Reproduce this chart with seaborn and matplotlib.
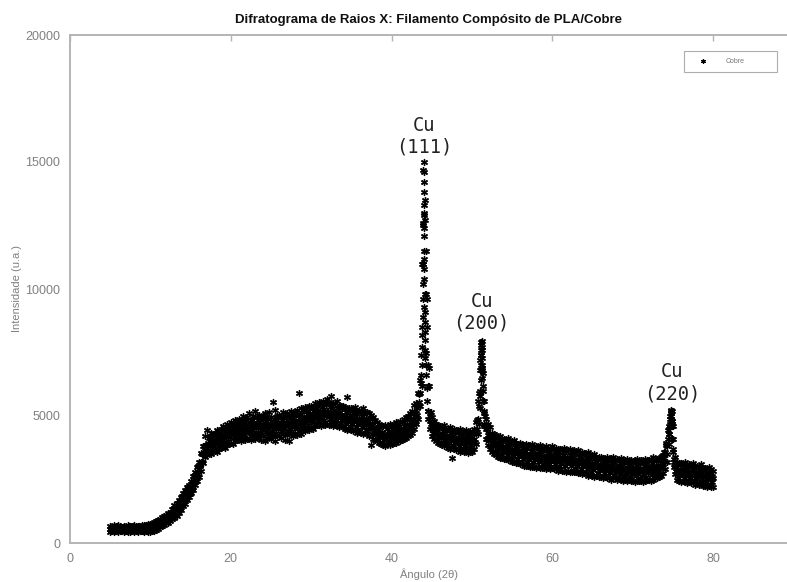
import numpy as np
import pandas as pd
import matplotlib
matplotlib.use("Agg")
import matplotlib.pyplot as plt
import seaborn as sns

# ---------------- data ----------------
angulo = np.round(np.arange(5.0, 80.001, 0.25), 3)
angulo_meio = np.round(np.arange(5.125, 79.876, 0.25), 3)

intensidade_alta = [
    660, 620, 700, 640,  690, 650, 610, 680,  640, 710, 660, 620,  700, 650, 680, 630,  690, 720, 700, 760,
    760, 750, 820, 860,  920, 950, 1040, 1050,  1100, 1180, 1200, 1340,  1480, 1560, 1700, 1820,  1950, 2100, 2200, 2300,
    2450, 2650, 2800, 3000,  3200, 3550, 3800, 4200,  4450, 4150, 4350, 4250,  4350, 4450, 4300, 4500,  4600, 4500, 4700, 4550,
    4750, 4650, 4850, 4700,  4900, 4800, 5000, 4850,  4950, 5100, 4850, 5000,  5200, 4950, 5050, 4900,  5000, 5100, 4950, 5150,
    4950, 5550, 5250, 5000,  5050, 4980, 5150, 5000,  5100, 5000, 5200, 5050,  5150, 5250, 5900, 5300,  5250, 5350, 5200, 5400,
    5400, 5350, 5500, 5450,  5550, 5450, 5600, 5500,  5650, 5550, 5800, 5500,  5500, 5600, 5450, 5400,  5400, 5350, 5750, 5300,
    5300, 5250, 5350, 5200,  5250, 5200, 5300, 5150,  5150, 5100, 5050, 4950,  4850, 4750, 4700, 4650,  4600, 4650, 4600, 4700,
    4650, 4700, 4750, 4700,  4800, 4750, 4900, 4950,  5000, 5100, 5200, 5450,  5500, 5900, 6400, 8200,  14600, 9800, 6200, 5000,
    4950, 4800, 4700, 4650,  4600, 4550, 4650, 4500,  4500, 4550, 4450, 4500,  4450, 4400, 4500, 4350,  4400, 4450, 4350, 4400,
    4350, 4500, 4750, 5600,  7200, 7950, 5600, 4900,  4700, 4550, 4350, 4300,  4250, 4150, 4200, 4100,  4100, 4050, 4150, 4000,
    4000, 4050, 3950, 3900,  3950, 3900, 3850, 3900,  3850, 3800, 3900, 3800,  3800, 3750, 3850, 3750,  3750, 3800, 3700, 3750,
    3800, 3700, 3750, 3700,  3700, 3650, 3750, 3650,  3650, 3700, 3600, 3650,  3600, 3650, 3550, 3600,  3550, 3500, 3600, 3450,
    3450, 3500, 3400, 3400,  3400, 3350, 3300, 3400,  3300, 3350, 3400, 3300,  3300, 3250, 3350, 3250,  3250, 3300, 3200, 3250,
    3200, 3250, 3300, 3200,  3250, 3200, 3300, 3250,  3250, 3300, 3400, 3300,  3300, 3350, 3400, 3450,  3600, 3800, 4600, 5200,
    4600, 3400, 3200, 3150,  3150, 3100, 3200, 3100,  3100, 3050, 3150, 3050,  3050, 3000, 3100, 2950,  2950, 2900, 3000, 2900,
    2850,
]

intensidade_media = [
    560, 540, 580, 550,  570, 550, 540, 570,  550, 580, 560, 540,  570, 550, 560, 580,  560, 590, 570, 600,
    610, 600, 670, 690,  760, 790, 860, 880,  960, 990, 1070, 1130,  1260, 1330, 1470, 1560,  1720, 1800, 1960, 2060,
    2220, 2360, 2570, 2700,  2920, 3180, 3520, 3730,  3870, 3880, 3970, 3960,  4020, 4030, 4120, 4130,  4220, 4220, 4300, 4300,
    4370, 4370, 4450, 4450,  4520, 4490, 4540, 4520,  4570, 4540, 4590, 4570,  4620, 4590, 4630, 4600,  4640, 4600, 4640, 4600,
    4640, 4610, 4660, 4620,  4670, 4630, 4670, 4630,  4670, 4660, 4720, 4700,  4770, 4750, 4820, 4800,  4870, 4860, 4930, 4930,
    5000, 4980, 5050, 5060,  5100, 5080, 5140, 5120,  5170, 5130, 5160, 5100,  5120, 5050, 5060, 4990,  5000, 4940, 4960, 4900,
    4920, 4870, 4900, 4840,  4870, 4810, 4820, 4760,  4770, 4680, 4640, 4520,  4470, 4380, 4370, 4280,  4270, 4230, 4280, 4260,
    4320, 4300, 4360, 4350,  4420, 4410, 4490, 4510,  4620, 4660, 4770, 4880,  5120, 5380, 5920, 11000,  13000, 11500, 7000, 4800,
    4620, 4430, 4370, 4280,  4270, 4200, 4220, 4160,  4170, 4110, 4130, 4080,  4100, 4040, 4070, 4020,  4050, 4000, 4030, 3980,
    4020, 4080, 4320, 4880,  6800, 7600, 5200, 4480,  4270, 4080, 4000, 3880,  3870, 3780, 3800, 3730,  3740, 3680, 3700, 3630,
    3650, 3590, 3610, 3540,  3560, 3500, 3520, 3460,  3480, 3430, 3460, 3400,  3430, 3380, 3410, 3360,  3390, 3340, 3370, 3330,
    3370, 3320, 3350, 3300,  3330, 3280, 3310, 3260,  3290, 3240, 3270, 3220,  3240, 3190, 3220, 3160,  3180, 3120, 3140, 3080,
    3100, 3040, 3060, 3000,  3020, 2970, 3000, 2950,  2980, 2930, 2970, 2930,  2960, 2910, 2940, 2890,  2920, 2870, 2900, 2850,
    2880, 2830, 2870, 2830,  2870, 2840, 2890, 2860,  2910, 2880, 2940, 2920,  2980, 2980, 3020, 3100,  3200, 3500, 4300, 4900,
    4100, 3050, 2870, 2780,  2820, 2770, 2800, 2750,  2780, 2730, 2760, 2700,  2720, 2660, 2680, 2620,  2640, 2580, 2600, 2540,
    2540,
]

intensidade_baixa = [
    450, 470, 420, 460,  440, 470, 490, 430,  480, 420, 450, 490,  430, 470, 450, 480,  460, 430, 470, 450,
    440, 470, 490, 530,  570, 630, 660, 720,  780, 800, 880, 930,  1000, 1080, 1200, 1300,  1450, 1520, 1680, 1800,
    1950, 2080, 2300, 2450,  2600, 2850, 3150, 3400,  3450, 3550, 3500, 3600,  3650, 3600, 3700, 3750,  3800, 3750, 3850, 3900,
    3950, 3900, 4000, 4050,  4100, 4000, 4150, 4050,  4100, 4150, 4050, 4200,  4100, 4200, 4150, 4050,  4200, 4000, 4150, 4250,
    4100, 4200, 4000, 4250,  4200, 4150, 4300, 4050,  4250, 4000, 4300, 4200,  4350, 4250, 4400, 4300,  4450, 4400, 4500, 4450,
    4550, 4500, 4600, 4650,  4650, 4600, 4700, 4650,  4700, 4650, 4750, 4600,  4650, 4600, 4550, 4600,  4550, 4500, 4450, 4500,
    4450, 4400, 4450, 4350,  4400, 4350, 4300, 4350,  4300, 4200, 3850, 4100,  4050, 4000, 3950, 3900,  3850, 3800, 3900, 3850,
    3900, 3950, 3950, 4000,  4000, 4050, 4100, 4150,  4200, 4250, 4350, 4500,  4700, 4900, 5400, 6200,  11500, 7500, 5200, 4500,
    4200, 4100, 4000, 3950,  3900, 3850, 3800, 3850,  3750, 3700, 3350, 3700,  3650, 3700, 3600, 3650,  3600, 3650, 3550, 3600,
    3600, 3700, 3900, 4300,  5800, 6900, 4600, 4100,  3850, 3700, 3600, 3500,  3450, 3400, 3350, 3350,  3300, 3300, 3250, 3250,
    3200, 3200, 3150, 3150,  3100, 3100, 3050, 3050,  3050, 3000, 3000, 3000,  2950, 3000, 2950, 2950,  2950, 2900, 2950, 2900,
    2950, 2900, 2900, 2850,  2900, 2850, 2850, 2800,  2850, 2800, 2800, 2800,  2800, 2750, 2750, 2700,  2750, 2700, 2650, 2700,
    2650, 2600, 2650, 2600,  2600, 2550, 2600, 2550,  2550, 2500, 2550, 2550,  2500, 2550, 2500, 2450,  2500, 2450, 2500, 2450,
    2450, 2400, 2450, 2450,  2450, 2400, 2450, 2500,  2500, 2450, 2500, 2550,  2550, 2600, 2650, 2750,  2900, 3200, 3900, 4600,
    3700, 2700, 2500, 2450,  2400, 2450, 2400, 2350,  2400, 2350, 2400, 2300,  2350, 2300, 2350, 2250,  2250, 2200, 2250, 2200,
    2200,
]

intensidade_sup = [
    575, 640, 600, 660,  570, 625, 635, 600,  580, 650, 605, 650,  570, 625, 650, 610,  585, 660, 630, 700,
    640, 745, 735, 865,  785, 915, 995, 975,  1005, 1135, 1160, 1340,  1345, 1565, 1605, 1850,  1775, 2020, 2195, 2215,
    2335, 2630, 2725, 3020,  3065, 3485, 3805, 3875,  3945, 4175, 4100, 4305,  4045, 4280, 4395, 4290,  4290, 4510, 4435, 4650,
    4390, 4610, 4720, 4600,  4575, 4765, 4665, 4860,  4575, 4770, 4850, 4710,  4675, 4860, 4750, 4935,  4640, 4820, 4890, 4735,
    4695, 4885, 4775, 4960,  4670, 4850, 4920, 4765,  4735, 4940, 4845, 5050,  4780, 4985, 5080, 4950,  4935, 5145, 5065, 5280,
    5010, 5215, 5315, 5185,  5160, 5360, 5265, 5460,  5170, 5345, 5400, 5225,  5155, 5305, 5160, 5310,  4990, 5150, 5200, 5025,
    4965, 5135, 5005, 5170,  4860, 5015, 5060, 4880,  4795, 4910, 4715, 4810,  4445, 4555, 4595, 4375,  4310, 4475, 4390, 4570,
    4330, 4510, 4595, 4485,  4475, 4670, 4620, 4845,  4660, 4895, 5065, 5100,  5310, 5870, 7400, 12600,  13500, 9600, 6900, 5150,
    4585, 4620, 4445, 4555,  4255, 4390, 4430, 4265,  4200, 4340, 4225, 4370,  4090, 4235, 4285, 4135,  4085, 4235, 4125, 4280,
    4070, 4380, 4840, 5900,  7400, 6700, 4990, 4475,  4235, 4260, 4060, 4155,  3845, 3970, 4005, 3835,  3770, 3910, 3785, 3920,
    3640, 3780, 3815, 3650,  3590, 3730, 3610, 3750,  3475, 3625, 3670, 3515,  3465, 3615, 3505, 3655,  3385, 3537, 3592, 3450,
    3405, 3555, 3445, 3595,  3325, 3475, 3525, 3375,  3325, 3475, 3365, 3510,  3235, 3385, 3430, 3270,  3210, 3350, 3230, 3370,
    3090, 3230, 3270, 3110,  3055, 3205, 3095, 3245,  2975, 3130, 3190, 3045,  2995, 3145, 3035, 3185,  2915, 3065, 3115, 2965,
    2915, 3070, 2970, 3130,  2875, 3045, 3115, 2985,  2955, 3130, 3050, 3230,  3000, 3230, 3440, 3600,  3950, 4450, 4900, 5200,
    3300, 3120, 3060, 3080,  2855, 3005, 2895, 3045,  2775, 2925, 2970, 2810,  2750, 2890, 2770, 2910,  2630, 2770, 2810, 2640,
]

intensidade_inf = [
    480, 528, 455, 505,  545, 475, 500, 455,  480, 540, 460, 498,  545, 475, 515, 465,  490, 550, 485, 545,
    590, 525, 615, 585,  675, 785, 745, 855,  955, 915, 1040, 1060,  1150, 1340, 1320, 1535,  1730, 1720, 1925, 1930,
    2140, 2405, 2440, 2705,  3020, 3185, 3535, 3590,  3650, 3835, 3675, 3830,  3980, 3825, 3990, 3860,  3995, 4170, 4010, 4175,
    4325, 4160, 4315, 4170,  4280, 4425, 4240, 4385,  4510, 4315, 4445, 4280,  4380, 4520, 4325, 4460,  4575, 4370, 4485, 4305,
    4400, 4545, 4350, 4485,  4605, 4400, 4515, 4335,  4440, 4600, 4420, 4575,  4715, 4535, 4675, 4520,  4640, 4805, 4640, 4805,
    4945, 4765, 4910, 4755,  4865, 5020, 4840, 4985,  5105, 4895, 4995, 4795,  4860, 4965, 4735, 4835,  4925, 4700, 4795, 4595,
    4670, 4795, 4580, 4695,  4795, 4565, 4655, 4450,  4500, 4570, 4290, 4335,  4385, 4155, 4205, 3995,  4050, 4175, 4010, 4150,
    4270, 4110, 4235, 4105,  4215, 4370, 4240, 4425,  4600, 4495, 4705, 4720,  5050, 5570, 6600, 11000,  12700, 8500, 6200, 4700,
    4325, 4320, 4065, 4135,  4195, 3990, 4070, 3885,  3940, 4040, 3845, 3950,  4030, 3835, 3925, 3755,  3825, 3935, 3745, 3860,
    4010, 3980, 4480, 5400,  7000, 6000, 4600, 4100,  4135, 3820, 3820, 3595,  3625, 3710, 3505, 3595,  3670, 3470, 3545, 3360,
    3420, 3520, 3315, 3410,  3490, 3290, 3370, 3190,  3255, 3365, 3170, 3275,  3365, 3175, 3265, 3095,  3165, 3277, 3092, 3210,
    3305, 3115, 3205, 3035,  3105, 3215, 3025, 3135,  3225, 3035, 3125, 2950,  3015, 3125, 2930, 3030,  3110, 2910, 2990, 2810,
    2870, 2970, 2770, 2870,  2955, 2765, 2855, 2685,  2755, 2870, 2690, 2805,  2895, 2705, 2795, 2625,  2695, 2805, 2615, 2725,
    2815, 2630, 2730, 2570,  2655, 2785, 2615, 2745,  2855, 2690, 2810, 2670,  2780, 2970, 3000, 3360,  3860, 4080, 4580, 4820,
    3000, 2820, 2560, 2660,  2755, 2565, 2655, 2485,  2555, 2665, 2470, 2570,  2650, 2450, 2530, 2350,  2410, 2510, 2310, 2400,
]

# extra points measured along the narrow Bragg peaks
pico_angulo = [
    43.70, 43.74, 43.78, 43.82, 43.86, 43.90, 43.94, 43.98, 44.00, 44.02, 44.04, 44.06,
    44.08, 44.10, 44.12, 44.14, 44.18, 44.22, 44.26, 44.30, 44.36, 44.42, 44.48, 44.55,
    43.96, 43.99, 44.03, 44.05, 44.09, 44.11, 44.15, 44.20, 43.92, 43.88,
    50.85, 50.95, 51.02, 51.08, 51.12, 51.16, 51.20, 51.24, 51.28, 51.32, 51.38, 51.45, 51.55,
    51.14, 51.18, 51.22, 51.10, 51.26,
    74.55, 74.62, 74.68, 74.74, 74.80, 74.86, 74.92, 75.00, 75.10, 74.78, 74.84,
]
pico_intensidade = [
    6300, 7000, 7700, 8500, 9600, 11000, 12500, 13800, 15000, 14200, 12900, 12100,
    11200, 10400, 9800, 9100, 8300, 7600, 7000, 6600, 6100, 5600, 5200, 4900,
    14700, 13300, 12400, 10800, 9300, 8700, 8000, 7300, 10200, 8900,
    4700, 5300, 6000, 6800, 7400, 7900, 7700, 7300, 6800, 6200, 5600, 5100, 4700,
    7800, 7600, 7000, 6400, 6500,
    4300, 4700, 5000, 5230, 5000, 4600, 4100, 3600, 3200, 5100, 4800,
]

rotulos_picos = ["Cu\n(111)", "Cu\n(200)", "Cu\n(220)"]
angulo_picos = [44.1, 51.2, 74.9]
topo_picos = [15200, 8270, 5510]

# ---------------- build table ----------------
df = pd.concat([
    pd.DataFrame({"angulo": angulo, "intensidade": intensidade_alta}),
    pd.DataFrame({"angulo": angulo, "intensidade": intensidade_media}),
    pd.DataFrame({"angulo": angulo, "intensidade": intensidade_baixa}),
    pd.DataFrame({"angulo": angulo_meio, "intensidade": intensidade_sup}),
    pd.DataFrame({"angulo": angulo_meio, "intensidade": intensidade_inf}),
    pd.DataFrame({"angulo": pico_angulo, "intensidade": pico_intensidade}),
], ignore_index=True)

# ---------------- style ----------------
sns.set_style("white")
plt.rcParams["font.family"] = ["Liberation Sans", "DejaVu Sans"]

grey_axis = "#b4b4b4"
grey_text = "#808080"

fig = plt.figure(figsize=(7.87, 5.82), dpi=100)
ax = fig.add_axes([70 / 787, 39 / 582, 717 / 787, 508 / 582])

asterisco = (6, 2, 0)
sns.scatterplot(data=df, x="angulo", y="intensidade", marker=asterisco,
                color="black", s=18, linewidth=1.0, label="Cobre", ax=ax)

ax.set_xlim(0, 89.2)
ax.set_ylim(0, 20000)
ax.set_xticks([0, 20, 40, 60, 80])
ax.set_yticks([0, 5000, 10000, 15000, 20000])

for side in ["left", "bottom", "top"]:
    ax.spines[side].set_color(grey_axis)
    ax.spines[side].set_linewidth(1.4)
ax.spines["right"].set_visible(False)

ax.tick_params(axis="both", direction="in", length=4, width=1, color=grey_axis,
               labelcolor=grey_text, labelsize=9, top=True, pad=7)

ax.set_xlabel("Ângulo (2θ)", fontsize=8, color=grey_text, labelpad=3)
ax.set_ylabel("Intensidade (u.a.)", fontsize=8, color=grey_text, labelpad=2.5)
ax.set_title("Difratograma de Raios X: Filamento Compósito de PLA/Cobre",
             fontsize=9.5, fontweight="bold", color="#111111", pad=9)

for rot, xa, ya in zip(rotulos_picos, angulo_picos, topo_picos):
    ax.text(xa, ya, rot, ha="center", va="bottom", fontsize=13.5,
            family="DejaVu Sans Mono", color="#222222", linespacing=1.2)

leg = ax.legend(loc="upper left", bbox_to_anchor=(0.8563, 0.9685, 0.1297, 0.0),
                mode="expand", fontsize=5, frameon=True, fancybox=False,
                borderpad=1.0, handlelength=3.5, handletextpad=1.5,
                borderaxespad=0, markerscale=0.6)
leg.get_frame().set_edgecolor("#999999")
leg.get_frame().set_linewidth(0.8)
for t in leg.get_texts():
    t.set_color("#777777")

fig.savefig("out.png", dpi=100)
